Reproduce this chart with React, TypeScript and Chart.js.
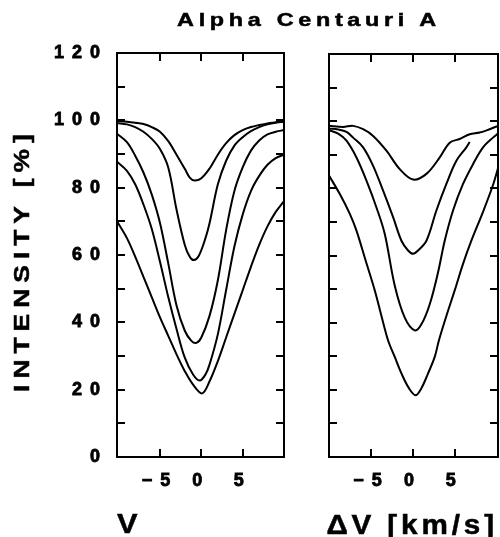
import React, { useEffect, useRef } from 'react';
import { Chart, registerables } from 'chart.js';
Chart.register(...registerables);

// ---- axis data ----
const Y_TICKS = [0, 10, 20, 30, 40, 50, 60, 70, 80, 90, 100, 110, 120];
const Y_LABEL_STEP = 20;
const X_TICKS = [-5, 0, 5];
const X_TICK_LABELS = ['−5', '0', '5'];
const LEFT_X_RANGE = [-10.2, 10];
const RIGHT_X_RANGE = [-10.1, 10.2];
const Y_RANGE = [0, 120];

// ---- left panel (V) ----
const L1_X = [-10.2, -9, -8, -7, -6, -5, -4, -3, -2, -1.4, -0.8, 0, 1, 2, 3, 4, 5, 6, 7, 8, 9, 10];
const L1_Y = [99.8, 99.6, 99.3, 98.9, 98.0, 96.6, 93.8, 89.8, 85.6, 83.0, 82.1, 82.8, 85.7, 89.8, 93.2, 95.6, 97.1, 98.0, 98.6, 99.1, 99.4, 99.7];
const L2_X = [-10.2, -9, -8, -7, -6, -5, -4, -3, -2, -1.4, -0.9, -0.3, 0.5, 1, 2, 3, 4, 5, 6, 7, 8, 9, 10];
const L2_Y = [99.2, 98.8, 98.0, 96.6, 94.5, 91.5, 86.0, 73.5, 63.0, 59.5, 58.5, 59.8, 65.0, 69.5, 81.0, 88.0, 92.5, 95.0, 96.8, 98.0, 98.8, 99.3, 99.6];
const L3_X = [-10.2, -9, -8, -7, -6, -5, -4, -3, -2, -1.2, -0.6, 0, 1, 2, 3, 4, 5, 6, 7, 8, 9, 10];
const L3_Y = [96.0, 93.5, 89.5, 84.5, 78.0, 69.5, 57.5, 45.0, 37.5, 34.5, 33.9, 35.5, 42.0, 52.5, 67.4, 79.0, 86.0, 91.0, 94.0, 95.8, 96.6, 97.1];
const L4_X = [-10.2, -9, -8, -7, -6, -5, -4, -3, -2, -1, -0.2, 0.5, 1, 2, 3, 4, 5, 6, 7, 8, 9, 10];
const L4_Y = [87.7, 85.0, 81.0, 75.0, 67.8, 58.0, 47.5, 38.0, 29.5, 24.5, 22.7, 24.5, 27.5, 36.5, 49.6, 62.5, 72.0, 79.0, 83.5, 86.8, 88.8, 89.8];
const L5_X = [-10.2, -9, -8, -7, -6, -5, -4, -3, -2, -1, 0.1, 1, 2, 3, 4, 5, 6, 7, 8, 9, 10];
const L5_Y = [70.0, 65.0, 59.5, 53.5, 47.5, 41.5, 36.0, 30.5, 25.5, 21.5, 18.9, 22.5, 28.5, 35.5, 42.5, 49.5, 56.5, 63.0, 68.5, 72.8, 76.0];

// ---- right panel (ΔV) ----
const R1_X = [-10.1, -8.4, -7.2, -6, -4.8, -3.2, -1.6, 0, 1.6, 3.2, 4.4, 5.6, 6.8, 8, 9.2, 10.2];
const R1_Y = [98.6, 98.3, 98.6, 97.6, 95.6, 91.2, 85.7, 82.6, 84.3, 89.2, 93.6, 94.7, 96.1, 96.6, 97.6, 98.6];
const R2_X = [-10.1, -9, -8, -7.2, -6, -4.8, -3.6, -2.4, -1.4, -0.6, 0, 0.6, 1.6, 2.8, 4, 5.2, 6.4, 6.8];
const R2_Y = [97.8, 97.5, 96.8, 95.1, 92.2, 86.7, 79.3, 71.4, 64.4, 61.5, 60.5, 61.5, 64.4, 73.4, 81.3, 88.2, 92.2, 93.8];
const R3_X = [-10.1, -9, -8, -6.8, -5.6, -4.4, -3.4, -2.2, -1, 0.2, 1, 2, 3, 3.8, 4.8, 6, 7.2, 8.4, 9.6, 10.2];
const R3_Y = [97.3, 96.3, 94.2, 89.2, 82.3, 74.3, 66.4, 51.0, 41.5, 37.7, 39.5, 45.5, 55.0, 64.4, 73.4, 81.3, 87.2, 92.2, 95.1, 96.3];
const R4_X = [-10.1, -8.8, -7.6, -6.8, -5.7, -4.6, -3.8, -3, -2.2, -1.4, -0.5, 0.3, 1, 1.8, 2.6, 3.1, 4, 5, 6, 7, 8.4, 9.6, 10.2];
const R4_Y = [83.8, 78.3, 72.4, 67.4, 58.5, 49.6, 42.0, 34.7, 29.8, 24.9, 20.5, 18.4, 20.5, 24.9, 29.8, 34.7, 42.0, 49.6, 57.5, 64.4, 73.0, 81.0, 86.0];

const LEFT_SERIES = [[L1_X, L1_Y], [L2_X, L2_Y], [L3_X, L3_Y], [L4_X, L4_Y], [L5_X, L5_Y]];
const RIGHT_SERIES = [[R1_X, R1_Y], [R2_X, R2_Y], [R3_X, R3_Y], [R4_X, R4_Y]];

const FONT = '"Liberation Sans", Arial, Helvetica, sans-serif';
const TICK_LEN = 8;
const CANVAS_SPACING = 8;

const framePlugin = {
  id: 'frameTicks',
  beforeUpdate(chart: any) { chart.ctx.letterSpacing = CANVAS_SPACING + 'px'; },
  beforeLayout(chart: any) { chart.ctx.letterSpacing = CANVAS_SPACING + 'px'; },
  beforeDraw(chart: any) { chart.ctx.letterSpacing = CANVAS_SPACING + 'px'; },
  afterDatasetsDraw(chart: any) {
    const { ctx, chartArea: a, scales } = chart;
    ctx.save();
    ctx.strokeStyle = '#000';
    ctx.lineWidth = 2;
    ctx.strokeRect(a.left, a.top, a.right - a.left, a.bottom - a.top);
    ctx.beginPath();
    for (const v of Y_TICKS) {
      const y = Math.round(scales.y.getPixelForValue(v));
      ctx.moveTo(a.left, y); ctx.lineTo(a.left + TICK_LEN, y);
      ctx.moveTo(a.right, y); ctx.lineTo(a.right - TICK_LEN, y);
    }
    for (const v of X_TICKS) {
      const x = Math.round(scales.x.getPixelForValue(v));
      ctx.moveTo(x, a.bottom); ctx.lineTo(x, a.bottom - TICK_LEN);
      ctx.moveTo(x, a.top); ctx.lineTo(x, a.top + TICK_LEN);
    }
    ctx.stroke();
    ctx.restore();
  },
};

type PanelProps = {
  left: number; width: number; series: number[][][]; xRange: number[];
  yAxisWidth: number; padTop: number; padRight: number; showY: boolean;
};

function Panel({ left, width, series, xRange, yAxisWidth, padTop, padRight, showY }: PanelProps) {
  const ref = useRef<HTMLCanvasElement>(null);
  useEffect(() => {
    const canvas = ref.current!;
    const chart = new Chart(canvas, {
      type: 'line',
      data: {
        datasets: series.map(([xs, ys]) => ({
          data: xs.map((x, i) => ({ x, y: ys[i] })),
          borderColor: '#000',
          borderWidth: 2,
          pointRadius: 0,
          fill: false,
          tension: 0.35,
        })),
      },
      options: {
        responsive: false,
        animation: false,
        devicePixelRatio: 1,
        layout: { padding: { top: padTop, right: padRight, left: 0, bottom: 0 } },
        plugins: { legend: { display: false }, tooltip: { enabled: false }, title: { display: false } },
        scales: {
          x: {
            type: 'linear',
            min: xRange[0],
            max: xRange[1],
            grid: { display: false, drawTicks: false },
            border: { display: false },
            afterBuildTicks: (s: any) => { s.ticks = X_TICKS.map((value) => ({ value })); },
            afterFit: (s: any) => { s.height = 537 - 457; },
            ticks: {
              color: '#000',
              textStrokeColor: '#000',
              textStrokeWidth: 0.8,
              padding: 13,
              maxRotation: 0,
              autoSkip: false,
              font: { family: FONT, size: 18, weight: 'bold' },
              callback: (_v: any, i: number) => X_TICK_LABELS[i],
            },
          },
          y: {
            type: 'linear',
            min: Y_RANGE[0],
            max: Y_RANGE[1],
            grid: { display: false, drawTicks: false },
            border: { display: false },
            afterBuildTicks: (s: any) => { s.ticks = Y_TICKS.map((value) => ({ value })); },
            afterFit: (s: any) => { s.width = yAxisWidth; },
            ticks: {
              display: showY,
              color: '#000',
              textStrokeColor: '#000',
              textStrokeWidth: 0.8,
              padding: 17 - CANVAS_SPACING,
              autoSkip: false,
              font: { family: FONT, size: 18, weight: 'bold' },
              callback: (v: any) => (Number(v) % Y_LABEL_STEP === 0 ? String(v) : ''),
            },
          },
        },
      } as any,
      plugins: [framePlugin],
    });
    return () => chart.destroy();
  }, []);
  return (
    <canvas
      ref={ref}
      width={width}
      height={537}
      style={{ position: 'absolute', left, top: 0, width, height: 537 }}
    />
  );
}

type LabelProps = {
  text: string; x: number; y: number; size: number; sx?: number; ls?: number;
  anchor?: 'left' | 'center' | 'right'; rotate?: boolean;
};

function Label({ text, x, y, size, sx = 1, ls = 0, anchor = 'left', rotate = false }: LabelProps) {
  const H = size * 2;
  const base: React.CSSProperties = {
    position: 'absolute',
    height: H,
    lineHeight: H + 'px',
    top: y - H / 2,
    fontFamily: FONT,
    fontWeight: 'bold',
    fontSize: size,
    letterSpacing: ls + 'px',
    whiteSpace: 'pre',
    color: '#000',
    WebkitTextStroke: '0.5px #000',
  };
  if (rotate) {
    const W = 400;
    return (
      <div style={{ ...base, left: x - W / 2, width: W, textAlign: 'center', transform: `rotate(-90deg) scaleX(${sx})`, transformOrigin: 'center' }}>
        {text}
      </div>
    );
  }
  if (anchor === 'center') {
    const W = 500;
    return (
      <div style={{ ...base, left: x - W / 2 + (ls * sx) / 2, width: W, textAlign: 'center', transform: `scaleX(${sx})`, transformOrigin: 'center' }}>
        {text}
      </div>
    );
  }
  if (anchor === 'right') {
    return (
      <div style={{ ...base, right: 500 - x, textAlign: 'right', transform: `scaleX(${sx})`, transformOrigin: 'right center' }}>
        {text}
      </div>
    );
  }
  return (
    <div style={{ ...base, left: x, transform: `scaleX(${sx})`, transformOrigin: 'left center' }}>{text}</div>
  );
}

export default function App() {
  return (
    <div style={{ position: 'fixed', left: 0, top: 0, width: 500, height: 537, background: '#fff', overflow: 'hidden' }}>
      <Panel left={0} width={292} series={LEFT_SERIES} xRange={LEFT_X_RANGE} yAxisWidth={117} padTop={53} padRight={8} showY={true} />
      <Panel left={292} width={208} series={RIGHT_SERIES} xRange={RIGHT_X_RANGE} yAxisWidth={37} padTop={54} padRight={2} showY={false} />
      <Label text="Alpha Centauri A" x={307} y={19.5} size={18} sx={1.3} ls={3.6} anchor="center" />
      <Label text="INTENSITY [%]" x={22} y={259.5} size={22} sx={1.2} ls={5} rotate />
      <Label text="V" x={117} y={524} size={28} sx={1.1} ls={0} anchor="left" />
      <Label text="ΔV [km/s]" x={498} y={524.5} size={27} sx={1.1} ls={3.5} anchor="right" />
    </div>
  );
}
